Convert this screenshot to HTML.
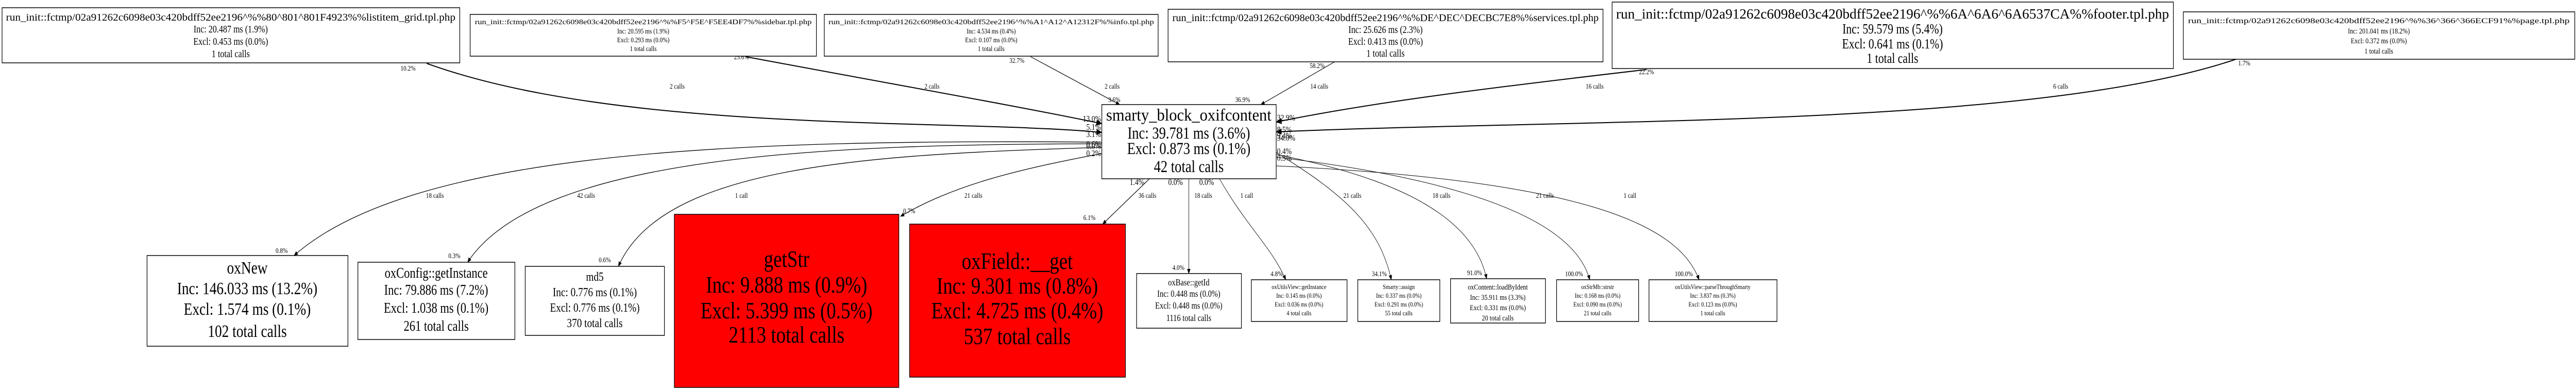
<!DOCTYPE html>
<html><head><meta charset="utf-8"><style>
html,body{margin:0;padding:0;background:#fff;width:100%;height:100%;overflow:hidden}
svg{display:block;width:100vw;height:100vh}
text{font-family:"Liberation Serif",serif;fill:#000}
</style></head><body>
<svg viewBox="0 0 6219 757" preserveAspectRatio="none" xmlns="http://www.w3.org/2000/svg">
<defs>
<marker id="a" markerWidth="10" markerHeight="10" refX="9" refY="5" orient="auto" markerUnits="userSpaceOnUse"><path d="M0,1 L10,5 L0,9 z" fill="#000"/></marker>
<marker id="b" markerWidth="14" markerHeight="14" refX="13" refY="7" orient="auto" markerUnits="userSpaceOnUse"><path d="M0,1 L14,7 L0,13 z" fill="#000"/></marker>
</defs>
<g fill="none" stroke="#000">
<path d="M1030,123 C1500,260 2300,230 2660,257" stroke-width="2" marker-end="url(#b)"/>
<path d="M1800,110 C2200,170 2450,205 2660,240" stroke-width="2" marker-end="url(#b)"/>
<path d="M2488,110 L2703,203" stroke-width="1.2" marker-end="url(#a)"/>
<path d="M3222,120 L3044,203" stroke-width="1.2" marker-end="url(#a)"/>
<path d="M3975,135 C3600,170 3300,200 3081,237" stroke-width="2" marker-end="url(#b)"/>
<path d="M5398,115 C4900,250 3800,230 3081,256" stroke-width="2" marker-end="url(#b)"/>
<path d="M2660,276 C1800,270 1000,290 710,496" stroke-width="1.3" marker-end="url(#a)"/>
<path d="M2660,279 C2000,280 1300,300 1129,509" stroke-width="1.3" marker-end="url(#a)"/>
<path d="M2660,286 C2100,300 1600,320 1493,517" stroke-width="1.3" marker-end="url(#a)"/>
<path d="M2660,298 C2450,330 2300,360 2174,420" stroke-width="1.3" marker-end="url(#a)"/>
<path d="M2775,347 L2662,435" stroke-width="1.3" marker-end="url(#a)"/>
<path d="M2870,347 L2870,531" stroke-width="1" marker-end="url(#a)"/>
<path d="M2944,347 C3010,440 3070,480 3104,543" stroke-width="1" marker-end="url(#a)"/>
<path d="M3081,296 C3250,380 3330,440 3359,543" stroke-width="1" marker-end="url(#a)"/>
<path d="M3081,300 C3400,350 3560,430 3589,541" stroke-width="1" marker-end="url(#a)"/>
<path d="M3081,305 C3550,350 3800,430 3838,543" stroke-width="1" marker-end="url(#a)"/>
<path d="M3081,322 C3800,350 4050,430 4102,543" stroke-width="1" marker-end="url(#a)"/>
</g>
<g font-size="14" text-anchor="middle">
<text x="985" y="137">10.2%</text><text x="1635" y="172">2 calls</text>
<text x="1790" y="115">25.6%</text><text x="2250" y="172">2 calls</text>
<text x="2455" y="122">32.7%</text><text x="2685" y="172">2 calls</text><text x="2690" y="198">3.6%</text>
<text x="3180" y="132">58.2%</text><text x="3185" y="172">14 calls</text><text x="3000" y="198">36.9%</text>
<text x="3975" y="144">22.2%</text><text x="3850" y="172">16 calls</text>
<text x="5418" y="127">1.7%</text><text x="4975" y="172">6 calls</text>
<text x="1050" y="384">18 calls</text><text x="1415" y="384">42 calls</text><text x="1790" y="384">1 call</text>
<text x="2350" y="384">21 calls</text><text x="2770" y="384">36 calls</text><text x="2905" y="384">18 calls</text>
<text x="3010" y="384">1 call</text><text x="3265" y="384">21 calls</text><text x="3480" y="384">18 calls</text>
<text x="3730" y="384">21 calls</text><text x="3935" y="384">1 call</text>
<text x="680" y="491">0.8%</text><text x="1097" y="501">0.3%</text><text x="1460" y="509">0.6%</text>
<text x="2195" y="414">0.7%</text><text x="2630" y="427">6.1%</text><text x="2845" y="524">4.0%</text>
<text x="3082" y="536">4.8%</text><text x="3330" y="536">34.1%</text><text x="3560" y="534">91.0%</text>
<text x="3800" y="536">100.0%</text><text x="4065" y="536">100.0%</text>
</g>
<g font-size="17" text-anchor="end">
<text x="2658" y="236">13.0%</text><text x="2658" y="252">5.1%</text><text x="2658" y="266">3.1%</text>
<text x="2658" y="285">0.6%</text><text x="2658" y="289">0.0%</text><text x="2658" y="303">0.2%</text>
</g>
<g font-size="17" text-anchor="start">
<text x="3083" y="234">32.9%</text><text x="3083" y="257">8.5%</text><text x="3083" y="269">9.4%</text><text x="3083" y="273">34.0%</text>
<text x="3083" y="299">0.4%</text><text x="3083" y="312">0.3%</text>
</g>
<g font-size="17" text-anchor="middle">
<text x="2745" y="359">1.4%</text><text x="2838" y="359">0.0%</text><text x="2913" y="359">0.0%</text>
</g>
<g stroke="#000" stroke-width="1.5">
<rect x="5" y="15" width="1105" height="107" fill="#fff"/>
<rect x="1135" y="28" width="836" height="81" fill="#fff"/>
<rect x="1990" y="28" width="806" height="81" fill="#fff"/>
<rect x="2820" y="18" width="1050" height="102" fill="#fff"/>
<rect x="3892" y="4" width="1355" height="129" fill="#fff"/>
<rect x="5271" y="23" width="945" height="92" fill="#fff"/>
<rect x="2660" y="203" width="421" height="144" fill="#fff"/>
<rect x="355" y="496" width="485" height="176" fill="#fff"/>
<rect x="864" y="509" width="379" height="150" fill="#fff"/>
<rect x="1268" y="517" width="336" height="134" fill="#fff"/>
<rect x="1628" y="416" width="542" height="336" fill="#ff0000"/>
<rect x="2196" y="435" width="521" height="297" fill="#ff0000"/>
<rect x="2744" y="531" width="253" height="106" fill="#fff"/>
<rect x="3021" y="543" width="231" height="81" fill="#fff"/>
<rect x="3278" y="543" width="198" height="81" fill="#fff"/>
<rect x="3502" y="541" width="229" height="86" fill="#fff"/>
<rect x="3758" y="543" width="198" height="81" fill="#fff"/>
<rect x="3981" y="543" width="309" height="81" fill="#fff"/>
</g>
<g text-anchor="middle">
<g font-size="20">
<text x="557" y="40" textLength="1085" lengthAdjust="spacingAndGlyphs">run_init::fctmp/02a91262c6098e03c420bdff52ee2196^%%80^801^801F4923%%listitem_grid.tpl.php</text>
<text x="557" y="63">Inc: 20.487 ms (1.9%)</text><text x="557" y="87">Excl: 0.453 ms (0.0%)</text><text x="557" y="111">1 total calls</text>
</g>
<g font-size="14">
<text x="1553" y="47" textLength="813" lengthAdjust="spacingAndGlyphs">run_init::fctmp/02a91262c6098e03c420bdff52ee2196^%%F5^F5E^F5EE4DF7%%sidebar.tpl.php</text>
<text x="1553" y="65">Inc: 20.595 ms (1.9%)</text><text x="1553" y="82">Excl: 0.293 ms (0.0%)</text><text x="1553" y="99">1 total calls</text>
<text x="2393" y="47" textLength="786" lengthAdjust="spacingAndGlyphs">run_init::fctmp/02a91262c6098e03c420bdff52ee2196^%%A1^A12^A12312F%%info.tpl.php</text>
<text x="2393" y="65">Inc: 4.534 ms (0.4%)</text><text x="2393" y="82">Excl: 0.107 ms (0.0%)</text><text x="2393" y="99">1 total calls</text>
</g>
<g font-size="20">
<text x="3345" y="41" textLength="1029" lengthAdjust="spacingAndGlyphs">run_init::fctmp/02a91262c6098e03c420bdff52ee2196^%%DE^DEC^DECBC7E8%%services.tpl.php</text>
<text x="3345" y="64">Inc: 25.626 ms (2.3%)</text><text x="3345" y="87">Excl: 0.413 ms (0.0%)</text><text x="3345" y="110">1 total calls</text>
</g>
<g font-size="27">
<text x="4569" y="36" textLength="1335" lengthAdjust="spacingAndGlyphs">run_init::fctmp/02a91262c6098e03c420bdff52ee2196^%%6A^6A6^6A6537CA%%footer.tpl.php</text>
<text x="4569" y="65">Inc: 59.579 ms (5.4%)</text><text x="4569" y="94">Excl: 0.641 ms (0.1%)</text><text x="4569" y="122">1 total calls</text>
</g>
<g font-size="15">
<text x="5743" y="45" textLength="921" lengthAdjust="spacingAndGlyphs">run_init::fctmp/02a91262c6098e03c420bdff52ee2196^%%36^366^366ECF91%%page.tpl.php</text>
<text x="5743" y="65">Inc: 201.041 ms (18.2%)</text><text x="5743" y="84">Excl: 0.372 ms (0.0%)</text><text x="5743" y="104">1 total calls</text>
</g>
<g font-size="33">
<text x="2870" y="234" textLength="399" lengthAdjust="spacingAndGlyphs">smarty_block_oxifcontent</text>
<text x="2870" y="269">Inc: 39.781 ms (3.6%)</text><text x="2870" y="299">Excl: 0.873 ms (0.1%)</text><text x="2870" y="334">42 total calls</text>
</g>
<g font-size="34">
<text x="597" y="531">oxNew</text><text x="597" y="571">Inc: 146.033 ms (13.2%)</text><text x="597" y="611">Excl: 1.574 ms (0.1%)</text><text x="597" y="654">102 total calls</text>
</g>
<g font-size="28">
<text x="1053" y="539">oxConfig::getInstance</text><text x="1053" y="572">Inc: 79.886 ms (7.2%)</text><text x="1053" y="607">Excl: 1.038 ms (0.1%)</text><text x="1053" y="642">261 total calls</text>
</g>
<g font-size="24">
<text x="1436" y="545">md5</text><text x="1436" y="575">Inc: 0.776 ms (0.1%)</text><text x="1436" y="605">Excl: 0.776 ms (0.1%)</text><text x="1436" y="635">370 total calls</text>
</g>
<g font-size="46">
<text x="1899" y="518">getStr</text><text x="1899" y="568">Inc: 9.888 ms (0.9%)</text><text x="1899" y="618">Excl: 5.399 ms (0.5%)</text><text x="1899" y="665">2113 total calls</text>
<text x="2456" y="522">oxField::__get</text><text x="2456" y="570">Inc: 9.301 ms (0.8%)</text><text x="2456" y="618">Excl: 4.725 ms (0.4%)</text><text x="2456" y="668">537 total calls</text>
</g>
<g font-size="18">
<text x="2870" y="554">oxBase::getId</text><text x="2870" y="576">Inc: 0.448 ms (0.0%)</text><text x="2870" y="599">Excl: 0.448 ms (0.0%)</text><text x="2870" y="623">1116 total calls</text>
</g>
<g font-size="13">
<text x="3136" y="561">oxUtilsView::getInstance</text><text x="3136" y="578">Inc: 0.145 ms (0.0%)</text><text x="3136" y="595">Excl: 0.036 ms (0.0%)</text><text x="3136" y="612">4 total calls</text>
<text x="3377" y="561">Smarty::assign</text><text x="3377" y="578">Inc: 0.337 ms (0.0%)</text><text x="3377" y="595">Excl: 0.291 ms (0.0%)</text><text x="3377" y="612">55 total calls</text>
<text x="3857" y="561">oxStrMb::strstr</text><text x="3857" y="578">Inc: 0.168 ms (0.0%)</text><text x="3857" y="595">Excl: 0.090 ms (0.0%)</text><text x="3857" y="612">21 total calls</text>
<text x="4135" y="561">oxUtilsView::parseThroughSmarty</text><text x="4135" y="578">Inc: 3.837 ms (0.3%)</text><text x="4135" y="595">Excl: 0.123 ms (0.0%)</text><text x="4135" y="612">1 total calls</text>
</g>
<g font-size="15">
<text x="3616" y="562">oxContent::loadByIdent</text><text x="3616" y="582">Inc: 35.911 ms (3.3%)</text><text x="3616" y="602">Excl: 0.331 ms (0.0%)</text><text x="3616" y="622">20 total calls</text>
</g>
</g>
</svg>
</body></html>
